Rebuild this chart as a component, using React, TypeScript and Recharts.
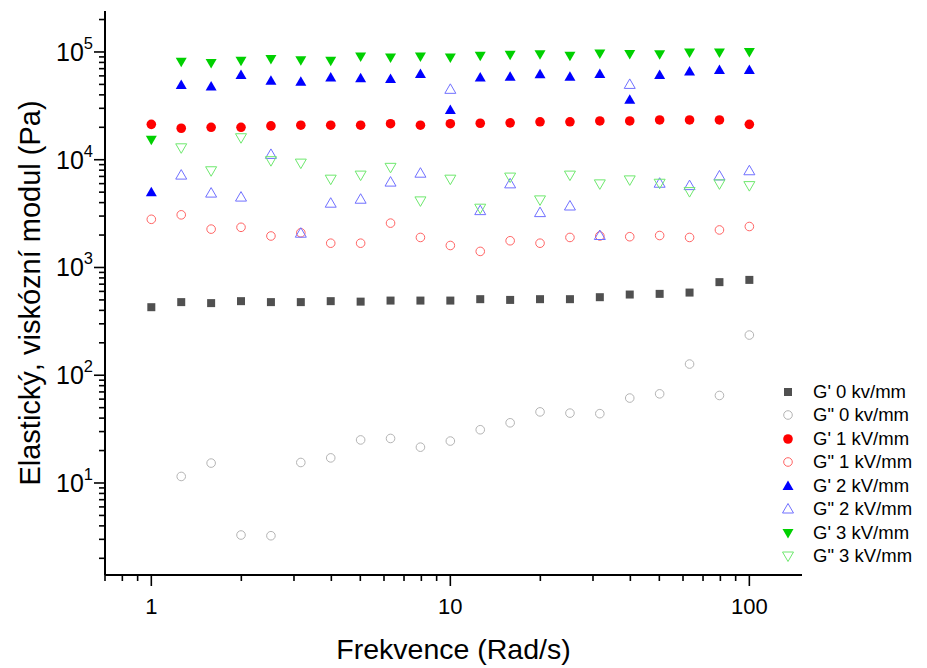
import React from "react";
import { ScatterChart, Scatter, XAxis, YAxis } from "recharts";

// frequency sweep, 5 points per decade
const freq = [1, 1.259, 1.585, 1.995, 2.512, 3.162, 3.981, 5.012, 6.31, 7.943, 10, 12.59, 15.85, 19.95, 25.12, 31.62, 39.81, 50.12, 63.1, 79.43, 100];

const gp0 = [428, 477, 467, 487, 477, 477, 487, 482, 493, 493, 493, 508, 500, 508, 508, 530, 561, 569, 585, 731, 767];
const gpp0 = [null, 11.5, 15.3, 3.29, 3.24, 15.5, 17.1, 25.1, 25.9, 21.5, 24.5, 31.2, 36.2, 45.7, 44.5, 44, 61.4, 67.2, 127, 64.9, 236];
const gp1 = [21300, 19600, 20000, 20000, 20600, 20900, 20900, 20900, 21600, 20900, 21600, 21800, 22000, 22500, 22500, 22900, 22900, 23400, 23400, 23400, 21300];
const gpp1 = [2800, 3080, 2270, 2360, 1960, 2100, 1680, 1680, 2580, 1900, 1600, 1410, 1770, 1680, 1900, 1960, 1930, 1980, 1900, 2230, 2400];
const gp2 = [4990, 49400, 47700, 61000, 54000, 53000, 58000, 57000, 56000, 62500, 29000, 58000, 59000, 62000, 59000, 62500, 36000, 61000, 66000, 68000, 68000];
const gpp2 = [null, 7200, 4900, 4500, 11200, 2080, 3950, 4300, 6200, 7500, 45000, 3370, 5970, 3230, 3720, 1980, 50000, 6050, 5750, 7070, 7900];
const gp3 = [15300, 81000, 79000, 83000, 86000, 84000, 83000, 91000, 89000, 91000, 89000, 92000, 94000, 95000, 92000, 97000, 96000, 95000, 99000, 99000, 100000];
const gpp3 = [null, 12900, 7900, 16000, 9800, 9300, 6600, 7200, 8500, 4150, 6600, 3550, 6900, 4240, 7200, 5970, 6500, 6050, 5060, 5970, 5750];

const xTicks = [0.7, 0.8, 0.9, 1, 2, 3, 4, 5, 6, 7, 8, 9, 10, 20, 30, 40, 50, 60, 70, 80, 90, 100];
const yTicks = [
  2, 3, 4, 5, 6, 7, 8, 9,
  10, 20, 30, 40, 50, 60, 70, 80, 90,
  100, 200, 300, 400, 500, 600, 700, 800, 900,
  1000, 2000, 3000, 4000, 5000, 6000, 7000, 8000, 9000,
  10000, 20000, 30000, 40000, 50000, 60000, 70000, 80000, 90000,
  100000, 200000,
];

const FONT = "'Liberation Sans', Arial, sans-serif";

const series = [
  { name: "G' 0 kv/mm", values: gp0, kind: "square", filled: true, color: "#505050" },
  { name: 'G" 0 kv/mm', values: gpp0, kind: "circle", filled: false, color: "#b4b4b4" },
  { name: "G' 1 kV/mm", values: gp1, kind: "circle", filled: true, color: "#ff0000" },
  { name: 'G" 1 kV/mm', values: gpp1, kind: "circle", filled: false, color: "#ff6464" },
  { name: "G' 2 kV/mm", values: gp2, kind: "up", filled: true, color: "#0000ff" },
  { name: 'G" 2 kV/mm', values: gpp2, kind: "up", filled: false, color: "#7070ff" },
  { name: "G' 3 kV/mm", values: gp3, kind: "down", filled: true, color: "#00d000" },
  { name: 'G" 3 kV/mm', values: gpp3, kind: "down", filled: false, color: "#6ee86e" },
];

const isMajor = (v: number) => Math.abs(Math.log10(v) - Math.round(Math.log10(v))) < 1e-6;

function Marker({ cx, cy, kind, filled, color }: any) {
  if (cx == null || cy == null) return null;
  const fill = filled ? color : "none";
  const stroke = filled ? "none" : color;
  if (kind === "square") {
    return <rect x={cx - 4} y={cy - 4} width={8} height={8} fill={fill} stroke={stroke} />;
  }
  if (kind === "circle") {
    return <circle cx={cx} cy={cy} r={filled ? 4.8 : 4.3} fill={fill} stroke={stroke} strokeWidth={1} />;
  }
  const pts =
    kind === "up"
      ? `${cx},${cy - 5.5} ${cx - 5.5},${cy + 4} ${cx + 5.5},${cy + 4}`
      : `${cx},${cy + 5.5} ${cx - 5.5},${cy - 4} ${cx + 5.5},${cy - 4}`;
  return <polygon points={pts} fill={fill} stroke={stroke} strokeWidth={1} />;
}

function XTick({ x, y, payload }: any) {
  const v = payload.value;
  const major = isMajor(v);
  return (
    <g>
      <line x1={x} x2={x} y1={y} y2={y + (major ? 11 : 6)} stroke="#000" strokeWidth={1.6} />
      {major && (
        <text x={x} y={y + 39} textAnchor="middle" fontSize={22} fontFamily={FONT} fill="#000">
          {v}
        </text>
      )}
    </g>
  );
}

function YTick({ x, y, payload }: any) {
  const v = payload.value;
  const major = isMajor(v);
  return (
    <g>
      <line x1={x - (major ? 11 : 6)} x2={x} y1={y} y2={y} stroke="#000" strokeWidth={1.6} />
      {major && (
        <text x={x - 12} y={y + 9} textAnchor="end" fontSize={25} fontFamily={FONT} fill="#000">
          10
          <tspan dy={-12} fontSize={16.5}>{Math.round(Math.log10(v))}</tspan>
        </text>
      )}
    </g>
  );
}

function YTitle({ viewBox }: any) {
  const cx = viewBox.x + 40;
  const cy = viewBox.y + viewBox.height / 2;
  return (
    <text
      x={cx}
      y={cy}
      transform={`rotate(-90, ${cx}, ${cy})`}
      textAnchor="middle"
      fontSize={29}
      fontFamily={FONT}
      fill="#000"
    >
      Elastický, viskózní modul (Pa)
    </text>
  );
}

function XTitle({ viewBox }: any) {
  return (
    <text
      x={viewBox.x + viewBox.width / 2}
      y={viewBox.y + viewBox.height - 9}
      textAnchor="middle"
      fontSize={28.5}
      fontFamily={FONT}
      fill="#000"
    >
      Frekvence (Rad/s)
    </text>
  );
}

export default function App() {
  return (
    <div style={{ position: "absolute", left: 0, top: 0, width: 927, height: 668, background: "#fff" }}>
      <ScatterChart width={927} height={668} margin={{ top: 11, right: 125, bottom: 0, left: 0 }}>
        <XAxis
          dataKey="f"
          type="number"
          scale="log"
          domain={[0.7, 150]}
          ticks={xTicks}
          interval={0}
          height={93}
          tickSize={0}
          tickMargin={0}
          tickLine={false}
          axisLine={{ stroke: "#000", strokeWidth: 2 }}
          tick={<XTick />}
          label={<XTitle />}
          allowDataOverflow
        />
        <YAxis
          dataKey="v"
          type="number"
          scale="log"
          domain={[1.4, 240000]}
          ticks={yTicks}
          interval={0}
          width={105}
          tickSize={0}
          tickMargin={0}
          tickLine={false}
          axisLine={{ stroke: "#000", strokeWidth: 2 }}
          tick={<YTick />}
          label={<YTitle />}
          allowDataOverflow
        />
        {series.map((s) => (
          <Scatter
            key={s.name}
            name={s.name}
            data={freq
              .map((f, i) => ({ f, v: s.values[i] }))
              .filter((d) => d.v != null)}
            isAnimationActive={false}
            shape={(p: any) => <Marker cx={p.cx} cy={p.cy} kind={s.kind} filled={s.filled} color={s.color} />}
          />
        ))}
      </ScatterChart>
      <div style={{ position: "absolute", left: 780, top: 380, fontFamily: FONT, fontSize: 18.5, color: "#000" }}>
        {series.map((s) => (
          <div key={s.name} style={{ display: "flex", alignItems: "center", height: 23.5, whiteSpace: "nowrap" }}>
            <svg width={16} height={16} style={{ marginRight: 17, flexShrink: 0 }}>
              <Marker cx={8} cy={8} kind={s.kind} filled={s.filled} color={s.color} />
            </svg>
            <span>{s.name}</span>
          </div>
        ))}
      </div>
    </div>
  );
}
